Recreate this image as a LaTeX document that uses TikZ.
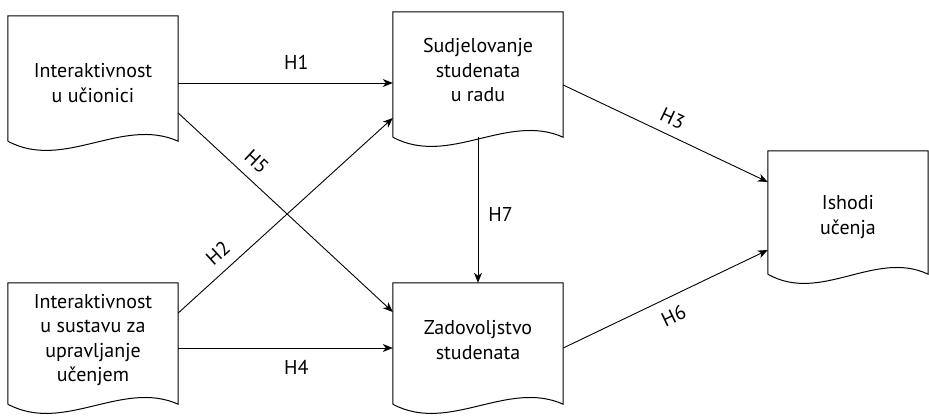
\documentclass[tikz,border=0pt]{standalone}
\usepackage{fontspec}
\setmainfont{PT Sans}
\usetikzlibrary{arrows.meta,calc,positioning}
\tikzset{
    % Base style for the document boxes
    docbox/.style={
        minimum width=170pt,
        minimum height=134pt,
        inner sep=0pt,
    },
    % Text inside a document box
    doctext/.style={
        font=\fontsize{20}{24.5}\selectfont,
        align=center,
        inner sep=0pt,
    },
    % Outline of a document box, wavy bottom
    docline/.style={
        line width=1pt,
        draw=black,
    },
    % Connector arrow
    arrow/.style={
        -{Stealth[length=10pt, width=8pt, inset=3pt]},
        line width=0.9pt,
    },
    % Label style for H1 ... H7
    hyp label/.style={
        font=\fontsize{20}{22}\selectfont,
        inner sep=2pt,
    },
}
\begin{document}
\begin{tikzpicture}[x=1pt, y=-1pt]
    \useasboundingbox (0,0) rectangle (929,415);

    \node (ucionica) [docbox, label={[doctext]center:{Interaktivnost\\u učionici}}] at (93,83) {};
    \node (sudjel) [docbox, label={[doctext, yshift=9pt]center:{Sudjelovanje\\studenata\\u radu}}] at (478,79) {};
    \node (sustav) [docbox, minimum height=130pt,
        label={[doctext, yshift=8pt]center:{Interaktivnost\\u sustavu za\\upravljanje\\učenjem}}] at (93,348) {};
    \node (zadov) [docbox, minimum height=130pt,
        label={[doctext, yshift=8pt]center:{Zadovoljstvo\\studenata}}] at (478,348) {};
    \node (ishodi) [docbox, minimum width=160pt, minimum height=132pt,
        label={[doctext]center:{Ishodi\\učenja}}] at (848,217) {};

    % document outlines
    \foreach \n in {ucionica,sudjel,sustav,zadov,ishodi}
        \draw[docline] ($(\n.south west)+(0,-9)$) -- (\n.north west) -- (\n.north east)
            -- ($(\n.south east)+(0,-9)$)
            .. controls ($(\n.south east)!0.33!(\n.south west)+(0,-34)$)
            and ($(\n.south east)!0.67!(\n.south west)+(0,21)$) .. ($(\n.south west)+(0,-9)$);

    \draw [arrow] (ucionica.east) -- (ucionica.east -| sudjel.west)
        node [hyp label, pos=0.55, above=11pt] {H1};
    \draw [arrow] ($(sustav.east)+(0,-35)$) -- ($(sudjel.west)+(0,39)$)
        node [hyp label, pos=0.24, sloped, above=8pt] {H2};
    \draw [arrow] ($(sudjel.east)+(0,6)$) -- ($(ishodi.west)+(0,-35)$)
        node [hyp label, pos=0.5, sloped, above=7pt] {H3};
    \draw [arrow] (sustav.east) -- (zadov.west)
        node [hyp label, pos=0.55, below=10pt] {H4};
    \draw [arrow] ($(ucionica.east)+(0,30)$) -- ($(zadov.west)+(0,-36)$)
        node [hyp label, pos=0.31, sloped, above=8pt] {H5};
    \draw [arrow] (zadov.east) -- ($(ishodi.west)+(0,33)$)
        node [hyp label, pos=0.5, sloped, below=9pt] {H6};
    \draw [arrow, shorten <=-9pt] (sudjel.south) -- (zadov.north)
        node [hyp label, midway, right=8pt] {H7};
\end{tikzpicture}
\end{document}
